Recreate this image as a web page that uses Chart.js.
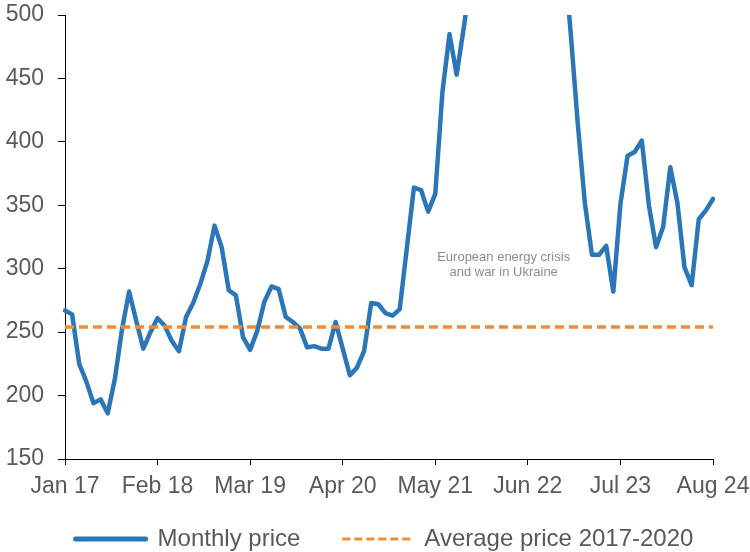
<!DOCTYPE html>
<html>
<head>
<meta charset="utf-8">
<script src="https://cdn.jsdelivr.net/npm/chart.js@4"></script>
<style>
  html, body { margin: 0; padding: 0; background: #fff; }
  canvas { display: block; }
</style>
</head>
<body>
<canvas id="chartPrice" width="750" height="552"></canvas>
<script>
// Monthly labels Jan 17 .. Aug 24
const monthNames = ["Jan", "Feb", "Mar", "Apr", "May", "Jun", "Jul", "Aug", "Sep", "Oct", "Nov", "Dec"];
const months = [];
for (let y = 17; y <= 24; y++) {
  for (let m = 0; m < 12; m++) {
    if (y === 24 && m > 7) break;
    months.push(monthNames[m] + " " + y);
  }
}

// ticks shown on the x axis
const xTickLabels = ["Jan 17", "Feb 18", "Mar 19", "Apr 20", "May 21", "Jun 22", "Jul 23", "Aug 24"];

// monthly price (values above 500 run off the top of the chart)
const monthlyPrice = [
  267, 264, 225, 211, 194, 197, 186, 213, 252, 282, 259, 237,
  250, 261, 255, 243, 235, 262, 273, 288, 306, 334, 317, 283,
  279, 246, 236, 251, 274, 286, 284, 262, 258, 253, 238, 239,
  237, 237, 258, 237, 216, 222, 235, 273, 272, 265, 263, 268,
  316, 364, 362, 345, 359, 439, 485, 453, 490, 530, 600, 720,
  650, 680, 850, 760, 740, 800, 950, 1050, 850, 640, 552, 487,
  415, 352, 311, 311, 318, 282, 351, 389, 392, 401, 350, 317,
  333, 380, 352, 301, 287, 339, 346, 355
];

// average price 2017-2020
const averagePrice = 254;

// note text and where it sits (month index, value)
const noteLines = ["European energy crisis", "and war in Ukraine"];
const noteMonth = 61.6;
const noteValues = [309, 297];

const FONT = "'Liberation Sans', Arial, sans-serif";
const GREY = "#595959";

const notePlugin = {
  id: "note",
  afterDatasetsDraw(chart) {
    const { ctx, scales: { x, y } } = chart;
    ctx.save();
    ctx.font = "13px " + FONT;
    ctx.fillStyle = "#8c8c8c";
    ctx.textAlign = "center";
    ctx.textBaseline = "middle";
    noteLines.forEach((t, i) => {
      ctx.fillText(t, x.getPixelForValue(noteMonth), y.getPixelForValue(noteValues[i]));
    });
    ctx.restore();
  }
};

// move legend into place
const legendShift = {
  id: "legendShift",
  afterLayout(chart) {
    const lg = chart.legend;
    lg.top -= 14; lg.bottom -= 14;
    lg.left += 28; lg.right += 28;
  }
};

// legend samples: keep the dataset's dash and width
function legendItems(chart) {
  const items = Chart.defaults.plugins.legend.labels.generateLabels(chart);
  items.forEach(it => {
    const ds = chart.data.datasets[it.datasetIndex];
    it.lineWidth = ds.borderDash ? 3 : 5;
    it.lineDash = ds.borderDash ? [8, 4] : [];
    it.lineCap = ds.borderDash ? "butt" : "round";
  });
  return items;
}

new Chart(document.getElementById("chartPrice"), {
  type: "line",
  data: {
    labels: months,
    datasets: [
      {
        label: "Monthly price",
        data: monthlyPrice,
        borderColor: "#2a76b8",
        backgroundColor: "#2a76b8",
        borderWidth: 4.5,
        borderJoinStyle: "round",
        borderCapStyle: "round",
        pointRadius: 0,
        tension: 0,
        order: 1
      },
      {
        label: "Average price 2017-2020",
        data: [{ x: months[0], y: averagePrice }, { x: months[months.length - 1], y: averagePrice }],
        borderColor: "#f58b30",
        backgroundColor: "#f58b30",
        borderWidth: 3.5,
        borderDash: [9, 5],
        pointRadius: 0,
        tension: 0,
        order: 0
      }
    ]
  },
  options: {
    responsive: false,
    animation: false,
    devicePixelRatio: 1,
    layout: { padding: { left: 0, right: 37, top: 15, bottom: -23 } },
    scales: {
      x: {
        type: "category",
        offset: false,
        border: { display: true, color: "#000", width: 1 },
        grid: {
          drawOnChartArea: false,
          drawTicks: true,
          tickLength: 6,
          color: c => xTickLabels.includes(months[c.index]) ? "#000" : "rgba(0,0,0,0)"
        },
        ticks: {
          autoSkip: false,
          maxRotation: 0,
          minRotation: 0,
          padding: 8,
          color: GREY,
          font: { family: FONT, size: 23 },
          callback: function (v, i) {
            const l = months[i];
            return xTickLabels.includes(l) ? l : "";
          }
        },
        afterFit: s => { s.height = 40; s.paddingLeft = 0; s.paddingRight = 0; }
      },
      y: {
        min: 150,
        max: 500,
        border: { display: true, color: "#000", width: 1 },
        grid: { drawOnChartArea: false, drawTicks: true, tickLength: 7, color: "#000" },
        ticks: {
          stepSize: 50,
          padding: 14,
          color: GREY,
          font: { family: FONT, size: 23 }
        },
        afterFit: s => { s.width = 65; s.paddingTop = 0; s.paddingBottom = 0; }
      }
    },
    plugins: {
      legend: {
        position: "bottom",
        labels: {
          sort: (a, b) => a.datasetIndex - b.datasetIndex,
          generateLabels: legendItems,
          usePointStyle: true,
          pointStyle: "line",
          pointStyleWidth: 70,
          padding: 42,
          color: GREY,
          font: { family: FONT, size: 24 }
        }
      },
      tooltip: { enabled: false }
    }
  },
  plugins: [notePlugin, legendShift]
});
</script>
</body>
</html>
